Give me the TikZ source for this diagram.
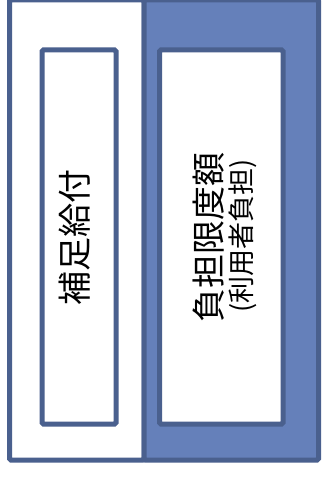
\documentclass[tikz,border=0pt]{standalone}
\usepackage{fontspec}
\newfontfamily\jpfont{Noto Sans CJK JP}
\usepackage{tikz}
\definecolor{boxedge}{RGB}{74,96,142}
\definecolor{boxfill}{RGB}{101,128,186}
\tikzset{
	outerbox/.style={draw=boxedge, line width=5pt, rounded corners=1.5pt},
	innerbox/.style={draw=boxedge, line width=5pt, fill=white, rounded corners=1.5pt},
	uptext/.style={rotate=90, font=\jpfont, inner sep=0pt}
}
\begin{document}
\begin{tikzpicture}[x=1pt, y=-1pt]
		%%%%% START %%%%%
		
		\useasboundingbox (0, 0) rectangle (327, 495);
		
		\draw[outerbox, fill=white] (9.5, 0) rectangle (144, 460);
		\draw[outerbox, fill=boxfill] (144, 0) rectangle (318.5, 460);
		
		\draw[innerbox] (42, 50) rectangle (116, 424);
		\draw[innerbox] (159.5, 50) rectangle (283, 424);
		
		\node[uptext] (hosoku) at (75, 237) {\fontsize{34}{34}\selectfont 補足給付};
		\node[uptext] (futan) at (208.5, 237) {\fontsize{34}{34}\selectfont 負担限度額};
		\node[uptext] (riyou) at (243, 236) {\fontsize{27}{27}\selectfont (利用者負担)};
		
		%%%%% END %%%%%
	\end{tikzpicture}
\end{document}
